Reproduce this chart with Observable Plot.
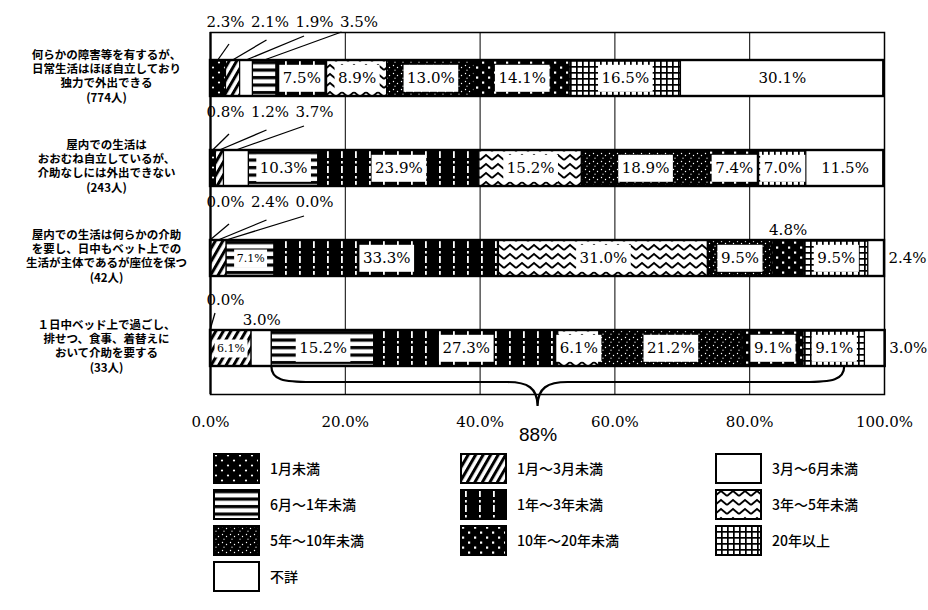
<!DOCTYPE html>
<html><head><meta charset="utf-8">
<script src="https://cdn.jsdelivr.net/npm/d3@7"></script>
<script src="https://cdn.jsdelivr.net/npm/@observablehq/plot@0.6"></script>
<style>
body{margin:0;background:#fff;}
#wrap{width:928px;}
#wrap > svg{display:block;}
.legend{display:grid;grid-template-columns:247px 255px 200px;grid-auto-rows:36px;padding-left:213px;font-family:"Noto Sans CJK JP";font-size:14px;font-weight:500;color:#000;}
.legend .item{display:flex;align-items:center;}
.legend .item svg{margin-right:10px;display:block;}
</style></head>
<body>
<svg width="0" height="0" style="position:absolute">
<defs>
<pattern id="pat0" width="12" height="10" patternUnits="userSpaceOnUse"><rect width="12" height="10" fill="#000"/><circle cx="3" cy="2.5" r="1.1" fill="#fff"/><circle cx="9" cy="7.5" r="1.1" fill="#fff"/></pattern>
<pattern id="pat1" width="6.5" height="10" patternUnits="userSpaceOnUse" patternTransform="rotate(30)"><rect width="6.5" height="10" fill="#fff"/><rect width="3" height="10" fill="#000"/></pattern>
<pattern id="pat2" width="10" height="10" patternUnits="userSpaceOnUse"><rect width="10" height="10" fill="#fff"/></pattern>
<pattern id="pat3" width="10" height="7.5" patternUnits="userSpaceOnUse"><rect width="10" height="7.5" fill="#fff"/><rect y="1" width="10" height="3.2" fill="#000"/></pattern>
<pattern id="pat4" width="14" height="15" patternUnits="userSpaceOnUse"><rect width="14" height="15" fill="#000"/><rect x="5" y="1" width="1.8" height="7" fill="#fff"/><rect x="5" y="11" width="1.8" height="2.5" fill="#fff"/></pattern>
<pattern id="pat5" width="12" height="9" patternUnits="userSpaceOnUse"><rect width="12" height="9" fill="#fff"/><path d="M0,7 L6,2 L12,7" fill="none" stroke="#000" stroke-width="1.8"/></pattern>
<pattern id="pat6" width="8" height="8" patternUnits="userSpaceOnUse"><rect width="8" height="8" fill="#000"/><circle cx="1.5" cy="1.5" r="0.7" fill="#fff"/><circle cx="5.5" cy="3.5" r="0.7" fill="#fff"/><circle cx="3" cy="6.2" r="0.6" fill="#fff"/></pattern>
<pattern id="pat7" width="12" height="10" patternUnits="userSpaceOnUse"><rect width="12" height="10" fill="#000"/><rect x="2" y="1.5" width="2.2" height="2.2" fill="#fff"/><rect x="8" y="6.5" width="2.2" height="2.2" fill="#fff"/></pattern>
<pattern id="pat8" width="6" height="6" patternUnits="userSpaceOnUse"><rect width="6" height="6" fill="#fff"/><rect width="6" height="1.7" fill="#000"/><rect width="1.7" height="6" fill="#000"/></pattern>
<pattern id="pat9" width="10" height="10" patternUnits="userSpaceOnUse"><rect width="10" height="10" fill="#fff"/></pattern>
</defs></svg>
<div id="wrap"></div>
<script>
// ---- data ----
const categories = ["1月未満","1月～3月未満","3月～6月未満","6月～1年未満","1年～3年未満","3年～5年未満","5年～10年未満","10年～20年未満","20年以上","不詳"];
const rowLabels = [
  "何らかの障害等を有するが、\n日常生活はほぼ自立しており\n独力で外出できる\n(774人)",
  "屋内での生活は\nおおむね自立しているが、\n介助なしには外出できない\n(243人)",
  "屋内での生活は何らかの介助\nを要し、日中もベット上での\n生活が主体であるが座位を保つ\n(42人)",
  "１日中ベッド上で過ごし、\n排せつ、食事、着替えに\nおいて介助を要する\n(33人)"
];
const row1Values = [2.3, 2.1, 1.9, 3.5, 7.5, 8.9, 13.0, 14.1, 16.5, 30.1];
const row2Values = [0.8, 1.2, 3.7, 10.3, 23.9, 15.2, 18.9, 7.4, 7.0, 11.5];
const row3Values = [0.0, 2.4, 0.0, 7.1, 33.3, 31.0, 9.5, 4.8, 9.5, 2.4];
const row4Values = [0.0, 6.1, 3.0, 15.2, 27.3, 6.1, 21.2, 9.1, 9.1, 3.0];
const xTicks = [0, 20, 40, 60, 80, 100];
const braceRange = [9.1, 94.1];   // brace ends (%)
const braceTip = 48.6;            // brace tip (%)
const braceValue = 88;            // "88%"

// label placement (layout): lead = above with leader line, in = inside, ins = inside small, top = just above, right = right of bar
const placement = [
  ["lead","lead","lead","lead","in","in","in","in","in","in"],
  ["lead","lead","lead","in","in","in","in","in","in","in"],
  ["lead","lead","lead","ins","in","in","in","top","in","right"],
  ["lead","ins","top","in","in","in","in","in","in","right"]
];

// ---- build table ----
const allValues = [row1Values, row2Values, row3Values, row4Values];
const segments = [];
allValues.forEach((vals, r) => {
  let acc = 0, k = 0;
  vals.forEach((v, i) => {
    const x1 = acc, x2 = acc + v; acc = x2;
    const p = placement[r][i];
    segments.push({row: rowLabels[r], r, cat: categories[i], ci: i, value: v, x1, x2, mid: (x1 + x2) / 2,
      place: p, k: p === "lead" ? k++ : -1, label: v.toFixed(1) + "%"});
  });
});
const totals = allValues.map((vals, r) => ({row: rowLabels[r], x1: 0, x2: d3.sum(vals)}));
const fmt = d => d.toFixed(1) + "%";

const leadMarks = [];
for (const s of segments.filter(d => d.place === "lead")) {
  leadMarks.push(Plot.text([s], {x: () => 0, y: "row", text: "label", dx: 15 + 44.5 * s.k, dy: s.r === 3 ? -48 : -56,
    fontFamily: "DejaVu Serif", fontSize: 15, fill: "#000"}));
}

function annotations(index, scales) {
  const x = scales.x, y = scales.y;
  let bw = typeof y.bandwidth === "function" ? y.bandwidth() : null;
  if (!bw) bw = Math.abs(y(rowLabels[1]) - y(rowLabels[0])) * 0.4;
  const g = d3.create("svg:g").attr("fill", "none").attr("stroke", "#000");
  for (const s of segments.filter(d => d.place === "lead")) {
    const top = y(s.row);
    const lx = x(0) + 15 + 44.5 * s.k;
    let x0, y0;
    if (s.r === 3) { x0 = lx - 10; y0 = top - 17; }
    else { x0 = lx + 4 - 7 * s.k; y0 = top - 16 - 4 * s.k; }
    g.append("line").attr("x1", x0).attr("y1", y0).attr("x2", x(s.mid)).attr("y2", top).attr("stroke-width", 1.3);
  }
  const yb = y(rowLabels[3]) + bw, yh = yb + 16, yt = yb + 40;
  const xa = x(braceRange[0]), xb = x(braceRange[1]), xt = x(braceTip);
  g.append("path").attr("stroke-width", 2.2).attr("d",
    `M${xa},${yb} C${xa},${yh - 2} ${xa + 12},${yh} ${xa + 40},${yh} L${xt - 30},${yh} C${xt - 10},${yh} ${xt},${yh + 6} ${xt},${yt} C${xt},${yh + 6} ${xt + 10},${yh} ${xt + 30},${yh} L${xb - 40},${yh} C${xb - 12},${yh} ${xb},${yh - 2} ${xb},${yb}`);
  return g.node();
}

const chart = Plot.plot({
  width: 928, height: 450,
  marginLeft: 210, marginRight: 44, marginTop: 32, marginBottom: 56,
  style: {fontFamily: "DejaVu Serif", fontSize: "15px", background: "#fff", color: "#000"},
  x: {domain: [0, 100], ticks: xTicks, tickFormat: fmt, tickSize: 0, tickPadding: 22, label: null},
  y: {domain: rowLabels, paddingInner: 0.6, paddingOuter: 0.3, axis: null},
  color: {domain: categories, range: categories.map((c, i) => `url(#pat${i})`)},
  marks: [
    Plot.ruleX(xTicks.filter(t => t > 0 && t < 100), {stroke: "#000", strokeWidth: 1}),
    Plot.barX(segments.filter(d => d.value > 0), {x1: "x1", x2: "x2", y: "row", fill: "cat", stroke: "#000", strokeWidth: 1.2}),
    Plot.barX(totals, {x1: "x1", x2: "x2", y: "row", fill: "none", stroke: "#000", strokeWidth: 2.4}),
    Plot.frame({stroke: "#000", strokeWidth: 1.5}),
    Plot.ruleX([0], {stroke: "#000", strokeWidth: 2.2}),
    Plot.text(segments.filter(d => d.place === "in"), {x: "mid", y: "row", text: "label", fontFamily: "DejaVu Serif", fontSize: 15, fill: "#000", ariaDescription: "inside-labels"}),
    Plot.text(segments.filter(d => d.place === "ins"), {x: "mid", y: "row", text: "label", fontFamily: "DejaVu Serif", fontSize: 11, fill: "#000", ariaDescription: "inside-labels-small"}),
    Plot.text(segments.filter(d => d.place === "top"), {x: "mid", y: "row", text: "label", dy: -28, fontFamily: "DejaVu Serif", fontSize: 15, fill: "#000"}),
    Plot.text(segments.filter(d => d.place === "right"), {x: "x2", y: "row", text: "label", dx: 23, fontFamily: "DejaVu Serif", fontSize: 15, fill: "#000"}),
    ...leadMarks,
    Plot.text(rowLabels.map(l => ({row: l})), {y: "row", text: "row", frameAnchor: "left", dx: -104, dy: -3, textAnchor: "middle",
      lineHeight: 1.25, fontFamily: "Noto Sans CJK JP", fontWeight: "bold", fontSize: 11.5, fill: "#000"}),
    Plot.text([{x: braceTip, row: rowLabels[3], t: braceValue + "%"}], {x: "x", y: "row", text: "t", dy: 86,
      fontFamily: "Liberation Sans", fontSize: 19, fill: "#000"}),
    annotations
  ]
});

const wrap = document.getElementById("wrap");
wrap.appendChild(chart);

// white boxes behind inside labels
const svgNS = "http://www.w3.org/2000/svg";
chart.querySelectorAll('g[aria-description^="inside-labels"] text').forEach(t => {
  const small = t.parentNode.getAttribute("aria-description").includes("small");
  const bb = t.getBBox();
  const h = small ? 18 : 27;
  const w = bb.width + (small ? 5 : 7);
  const r = document.createElementNS(svgNS, "rect");
  r.setAttribute("x", bb.x + bb.width / 2 - w / 2);
  r.setAttribute("y", bb.y + bb.height / 2 - h / 2);
  r.setAttribute("width", w);
  r.setAttribute("height", h);
  r.setAttribute("fill", "#fff");
  r.setAttribute("stroke", "none");
  if (t.getAttribute("transform")) r.setAttribute("transform", t.getAttribute("transform"));
  t.parentNode.insertBefore(r, t);
});

// legend
const legend = document.createElement("div");
legend.className = "legend";
categories.forEach((c, i) => {
  const item = document.createElement("div");
  item.className = "item";
  item.innerHTML = `<svg width="47" height="31"><rect x="1" y="1" width="45" height="29" fill="url(#pat${i})" stroke="#000" stroke-width="2"/></svg><span>${c}</span>`;
  legend.appendChild(item);
});
wrap.appendChild(legend);
</script>
</body></html>
